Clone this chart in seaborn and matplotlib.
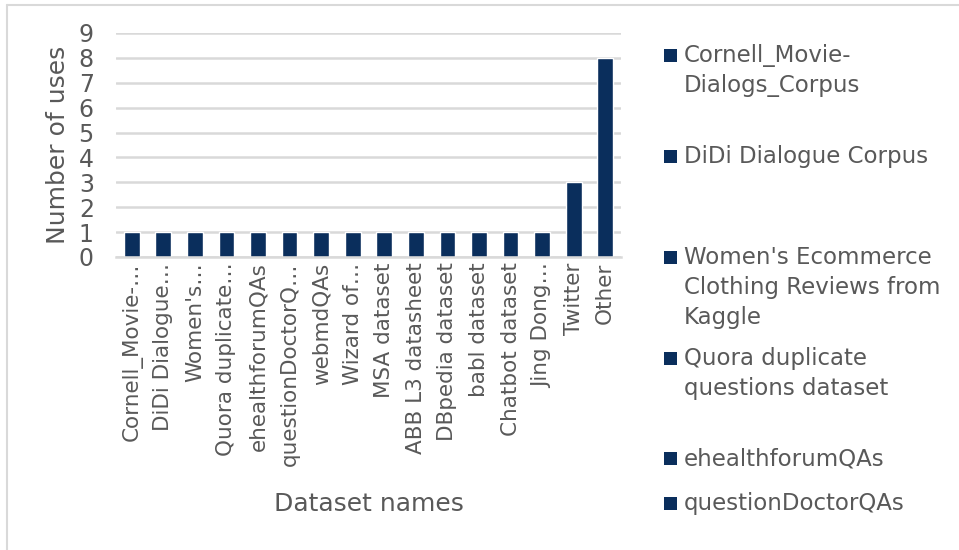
import matplotlib
matplotlib.use("Agg")
import matplotlib.pyplot as plt
import seaborn as sns
import pandas as pd
from matplotlib.patches import Rectangle
from matplotlib.lines import Line2D

# full names used in the legend (Excel only shows the first six)
dataset_names = [
    "Cornell_Movie-\nDialogs_Corpus",
    "DiDi Dialogue Corpus",
    "Women's Ecommerce\nClothing Reviews from\nKaggle",
    "Quora duplicate\nquestions dataset",
    "ehealthforumQAs",
    "questionDoctorQAs",
    "webmdQAs",
    "Wizard of Oz",
    "MSA dataset",
    "ABB L3 datasheet",
    "DBpedia dataset",
    "babl dataset",
    "Chatbot dataset",
    "Jing Dong dataset",
    "Twitter",
    "Other",
]
# truncated tick labels as shown on the axis
tick_labels = [
    "Cornell_Movie-…", "DiDi Dialogue…", "Women's…", "Quora duplicate…",
    "ehealthforumQAs", "questionDoctorQ…", "webmdQAs", "Wizard of…",
    "MSA dataset", "ABB L3 datasheet", "DBpedia dataset", "babl dataset",
    "Chatbot dataset", "Jing Dong…", "Twitter", "Other",
]
uses = [1, 1, 1, 1, 1, 1, 1, 1, 1, 1, 1, 1, 1, 1, 3, 8]

BAR = "#0A2E5C"
TXT = "#595959"
GRID = "#D9D9D9"

sns.set_theme(style="white")
plt.rcParams["font.family"] = ["DejaVu Sans"]

df = pd.DataFrame({"name": tick_labels, "uses": uses})

fig = plt.figure(figsize=(9.59, 5.50), dpi=100)
W, H = 959, 550
ax = fig.add_axes([116 / W, 1 - 257 / H, (621 - 116) / W, (257 - 33) / H])

sns.barplot(data=df, x="name", y="uses", color=BAR, width=0.5,
            saturation=1, ax=ax)

ax.set_ylim(0, 9)
ax.set_xlim(-0.5, len(uses) - 0.5)
ax.set_yticks(range(0, 10))
ax.yaxis.grid(True, color=GRID, linewidth=1.8)
ax.set_axisbelow(True)
for s in ["top", "right", "left"]:
    ax.spines[s].set_visible(False)
ax.spines["bottom"].set_color(GRID)
ax.spines["bottom"].set_linewidth(1.8)

ax.tick_params(axis="y", length=0, pad=16, labelsize=17, labelcolor=TXT)
ax.set_xticks(range(len(uses)))
ax.set_xticklabels(tick_labels, rotation=90, fontsize=15.5, color=TXT)
ax.tick_params(axis="x", length=0, pad=4)
# category boundary ticks
ax.set_xticks([i - 0.5 for i in range(len(uses) + 1)], minor=True)
ax.tick_params(axis="x", which="minor", length=6, width=1.5, color=GRID)

ax.set_xlabel("Dataset names", fontsize=18, color=TXT)
ax.set_ylabel("Number of uses", fontsize=18, color=TXT)
ax.xaxis.set_label_coords(0.5, -(492 - 257) / (257 - 33))
ax.yaxis.set_label_coords(-(116 - 70) / (621 - 116), 0.5)

# legend, Excel style with fixed slots (top of each marker, px)
legend_y = [49, 150, 251, 352, 452, 497]
for name, y in zip(dataset_names[:6], legend_y):
    fig.add_artist(Rectangle((664 / W, 1 - (y + 13) / H), 13 / W, 13 / H,
                             transform=fig.transFigure, facecolor=BAR,
                             linewidth=0))
    fig.text(684 / W, 1 - (y - 5) / H, name, fontsize=16.5, color=TXT,
             va="top", ha="left", linespacing=1.38)

# chart area border (top and left visible)
fig.add_artist(Line2D([7 / W, 7 / W], [0, 1 - 5 / H], transform=fig.transFigure,
                      color="#D9D9D9", linewidth=1.5))
fig.add_artist(Line2D([7 / W, 1], [1 - 5 / H, 1 - 5 / H], transform=fig.transFigure,
                      color="#D9D9D9", linewidth=1.5))

fig.savefig("out.png", dpi=100, facecolor="white")
